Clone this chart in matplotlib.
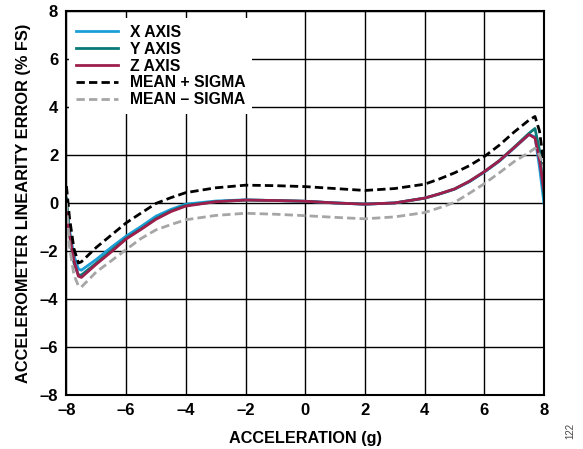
import matplotlib
matplotlib.use('Agg')
import matplotlib.pyplot as plt
from matplotlib.ticker import FuncFormatter

# acceleration (g) sample points
accel = [-8, -7.9, -7.75, -7.6, -7.5, -7, -6.5, -6, -5.5, -5, -4.5, -4, -3, -2, -1,
         0, 1, 2, 3, 4, 4.5, 5, 5.5, 6, 6.5, 7, 7.5, 7.7, 7.85, 8]

x_axis = [-0.1, -1.1, -2.2, -2.75, -2.8, -2.35, -1.85, -1.38, -0.98, -0.55, -0.27, -0.05, 0.08, 0.13, 0.1,
          0.07, 0.0, -0.05, 0.0, 0.2, 0.37, 0.57, 0.88, 1.28, 1.73, 2.28, 2.85, 2.75, 1.5, 0.0]
y_axis = [0.2, -1.3, -2.5, -3.0, -3.0, -2.5, -1.98, -1.47, -1.08, -0.65, -0.33, -0.1, 0.05, 0.12, 0.1,
          0.07, 0.0, -0.05, 0.0, 0.2, 0.38, 0.58, 0.9, 1.3, 1.76, 2.32, 2.9, 3.1, 2.2, 0.3]
z_axis = [-0.4, -1.3, -2.4, -3.05, -3.1, -2.55, -2.04, -1.5, -1.1, -0.68, -0.36, -0.13, 0.05, 0.12, 0.1,
          0.07, 0.0, -0.05, 0.0, 0.2, 0.38, 0.58, 0.9, 1.3, 1.75, 2.3, 2.85, 2.7, 1.8, 0.5]
mean_plus = [0.7, -0.6, -1.9, -2.5, -2.45, -1.85, -1.34, -0.83, -0.42, -0.02, 0.22, 0.43, 0.63, 0.74, 0.72,
             0.68, 0.6, 0.52, 0.6, 0.78, 1.0, 1.25, 1.55, 1.93, 2.4, 2.95, 3.45, 3.6, 3.0, 1.6]
mean_minus = [0.0, -1.8, -3.0, -3.45, -3.5, -2.87, -2.41, -1.94, -1.48, -1.12, -0.9, -0.7, -0.52, -0.43, -0.47,
              -0.53, -0.6, -0.66, -0.58, -0.4, -0.2, 0.02, 0.4, 0.8, 1.25, 1.72, 2.1, 2.28, 2.0, 1.5]

ticks = [-8, -6, -4, -2, 0, 2, 4, 6, 8]

plt.rcParams['font.family'] = ['Liberation Sans', 'DejaVu Sans']

fig = plt.figure(figsize=(5.83, 4.49), dpi=100)
ax = fig.add_axes([0.114, 0.120, 0.819, 0.856])

ax.plot(accel, x_axis, color='#1c9fd8', lw=2.0, label='X AXIS')
ax.plot(accel, y_axis, color='#0a7a78', lw=2.0, label='Y AXIS')
ax.plot(accel, z_axis, color='#9e1f4c', lw=2.0, label='Z AXIS')
ax.plot(accel, mean_plus, color='black', lw=2.0, ls=(0, (3, 1.5)), label='MEAN + SIGMA')
ax.plot(accel, mean_minus, color='#a6a6a6', lw=2.0, ls=(0, (3, 1.5)), label='MEAN \u2013 SIGMA')

ax.set_xlim(-8, 8)
ax.set_ylim(-8, 8)
ax.set_xticks(ticks)
ax.set_yticks(ticks)
dash = FuncFormatter(lambda v, p: ('%d' % v).replace('-', '\u2013'))
ax.xaxis.set_major_formatter(dash)
ax.yaxis.set_major_formatter(dash)
ax.tick_params(length=0, labelsize=12, pad=6)
for lab in ax.get_xticklabels() + ax.get_yticklabels():
    lab.set_fontweight('bold')
ax.grid(True, color='black', lw=1.0)
ax.set_axisbelow(True)
for s in ax.spines.values():
    s.set_linewidth(1.5)

ax.set_xlabel('ACCELERATION (g)', fontsize=11.7, fontweight='bold', labelpad=9)
ax.set_ylabel('ACCELEROMETER LINEARITY ERROR (% FS)', fontsize=11.8, fontweight='bold', labelpad=6)

leg = ax.legend(loc='upper left', bbox_to_anchor=(0.006, 0.98), frameon=True, fancybox=False,
                handlelength=2.7, borderaxespad=0, borderpad=0.4, labelspacing=0.12,
                handletextpad=0.75, prop={'weight': 'bold', 'size': 11.3})
leg.get_frame().set_edgecolor('none')
leg.get_frame().set_facecolor('white')
leg.get_frame().set_alpha(1.0)

fig.text(0.978, 0.04, '122', rotation=90, fontsize=7, color='#444444',
         ha='center', va='center')

plt.savefig('out.png', dpi=100)
